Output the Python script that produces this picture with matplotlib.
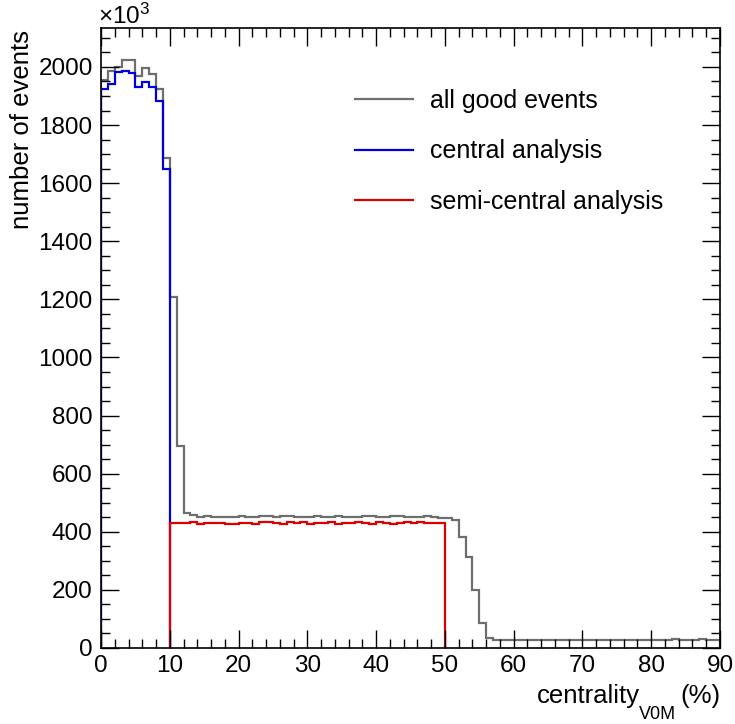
import numpy as np
import matplotlib
matplotlib.use("Agg")
import matplotlib.pyplot as plt
from matplotlib.ticker import MultipleLocator

plt.rcParams['font.family'] = ['Liberation Sans', 'DejaVu Sans']
plt.rcParams['mathtext.fontset'] = 'custom'
plt.rcParams['mathtext.rm'] = 'Liberation Sans'
plt.rcParams['mathtext.it'] = 'Liberation Sans'

# ---- data (in units of 10^3 events), 1% centrality bins ----
edges_all = list(range(0, 91))
all_good = [1955, 1985, 2000, 2025, 2025, 1970, 1995, 1975, 1925, 1685,
            1208, 695, 466, 458, 452, 453, 452, 450, 452, 451,
            453, 452, 450, 455, 454, 451, 456, 455, 452, 450,
            451, 453, 450, 452, 454, 451, 452, 450, 453, 455,
            452, 451, 453, 454, 452, 450, 452, 453, 450, 449,
            447, 440, 383, 314, 200, 86, 33, 29, 29, 28,
            29, 28, 29, 29, 28, 29, 28, 29, 29, 28,
            29, 28, 29, 29, 28, 29, 28, 29, 29, 28,
            29, 28, 29, 30, 28, 29, 28, 31, 29, 28]

edges_central = list(range(0, 11))
central = [1924, 1941, 1983, 1985, 1980, 1931, 1948, 1931, 1883, 1648]

edges_semi = list(range(10, 51))
semi_central = [429, 429, 429, 435, 426, 429, 430, 429, 427, 428,
                431, 430, 428, 433, 434, 429, 428, 432, 431, 433,
                427, 429, 431, 432, 428, 430, 431, 433, 430, 428,
                433, 431, 428, 430, 432, 431, 433, 430, 429, 430]

labels = ['all good events', 'central analysis', 'semi-central analysis']
colors = ['#6e6e6e', '#0000dd', '#dd0000']

W, H = 735, 724
fig = plt.figure(figsize=(W/100, H/100), dpi=100)
ax = fig.add_axes([101/W, 76/H, 619/W, 620/H])

lw = 1.6
ax.stairs(all_good, edges_all, baseline=0, color=colors[0], lw=lw, label=labels[0])
ax.stairs(central, edges_central, baseline=0, color=colors[1], lw=lw, label=labels[1])
ax.stairs(semi_central, edges_semi, baseline=0, color=colors[2], lw=lw, label=labels[2])

FS = 17.5
ax.set_xlim(0, 90)
ax.set_ylim(0, 2134)
ax.xaxis.set_major_locator(MultipleLocator(10))
ax.xaxis.set_minor_locator(MultipleLocator(2))
ax.yaxis.set_major_locator(MultipleLocator(200))
ax.yaxis.set_minor_locator(MultipleLocator(50))
ax.tick_params(which='both', direction='in', top=True, right=True,
               labelsize=FS, width=1.0, color='black')
ax.tick_params(which='major', length=13)
ax.tick_params(which='minor', length=6.5)
ax.tick_params(axis='y', pad=6)
ax.tick_params(axis='x', pad=5)
for s in ax.spines.values():
    s.set_linewidth(1.2)

fig.text(22/W, 1 - 30/H, 'number of events', rotation=90,
         ha='center', va='top', fontsize=18.5)

# x-axis title: centrality_{V0M} (%), ROOT-like lowered subscript
TFS = 18.5
renderer = fig.canvas.get_renderer()
t_pct = fig.text(720/W, 1 - 703/H, '(%)', ha='right', va='baseline', fontsize=TFS)
bb = t_pct.get_window_extent(renderer)
t_sub = fig.text((bb.x0 - 4)/W, 1 - 719/H, 'V0M', ha='right', va='baseline',
                 fontsize=13)
bb2 = t_sub.get_window_extent(renderer)
fig.text((bb2.x0 + 1)/W, 1 - 703/H, 'centrality', ha='right', va='baseline',
         fontsize=TFS)

fig.text(98/W, 1 - 24/H, r'$\times$10$^{3}$', ha='left', va='baseline',
         fontsize=FS)

leg = ax.legend(loc='upper left', bbox_to_anchor=((355 - 101)/619, 1 - (89 - 28)/620),
                frameon=False, fontsize=18, handlelength=2.3,
                handletextpad=0.72, labelspacing=1.05, borderaxespad=0,
                borderpad=0)

fig.savefig('out.png', dpi=100)
